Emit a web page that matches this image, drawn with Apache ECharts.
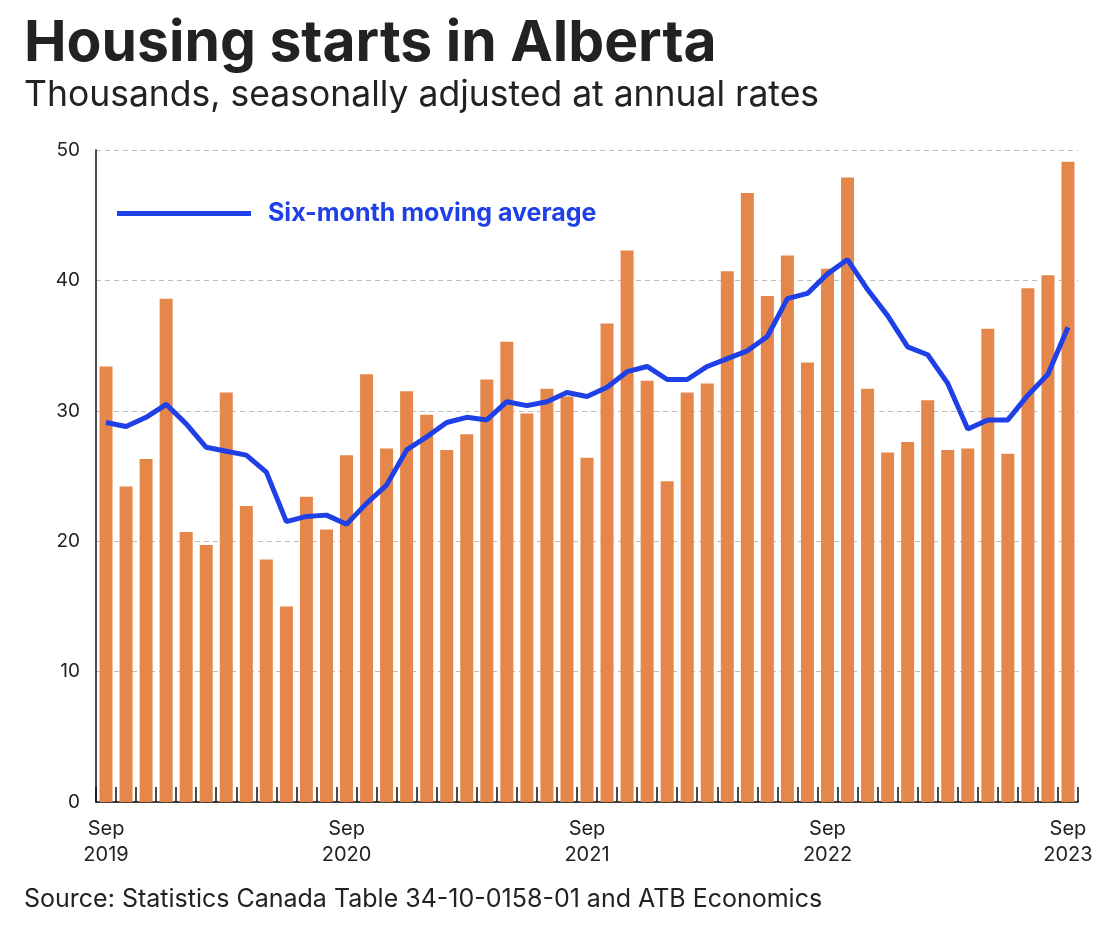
<!DOCTYPE html>
<html>
<head>
<meta charset="utf-8">
<script src="https://cdn.jsdelivr.net/npm/echarts@6/dist/echarts.min.js"></script>
<style>
html,body{margin:0;padding:0;background:#fff;}
#chart{width:1120px;height:938px;}
</style>
</head>
<body>
<div id="chart"></div>
<script>
const months = [
  'Sep 2019','Oct 2019','Nov 2019','Dec 2019','Jan 2020','Feb 2020','Mar 2020','Apr 2020','May 2020','Jun 2020','Jul 2020','Aug 2020',
  'Sep 2020','Oct 2020','Nov 2020','Dec 2020','Jan 2021','Feb 2021','Mar 2021','Apr 2021','May 2021','Jun 2021','Jul 2021','Aug 2021',
  'Sep 2021','Oct 2021','Nov 2021','Dec 2021','Jan 2022','Feb 2022','Mar 2022','Apr 2022','May 2022','Jun 2022','Jul 2022','Aug 2022',
  'Sep 2022','Oct 2022','Nov 2022','Dec 2022','Jan 2023','Feb 2023','Mar 2023','Apr 2023','May 2023','Jun 2023','Jul 2023','Aug 2023',
  'Sep 2023'
];
const starts = [
  33.4, 24.2, 26.3, 38.6, 20.7, 19.7, 31.4, 22.7, 18.6, 15.0, 23.4, 20.9,
  26.6, 32.8, 27.1, 31.5, 29.7, 27.0, 28.2, 32.4, 35.3, 29.8, 31.7, 31.1,
  26.4, 36.7, 42.3, 32.3, 24.6, 31.4, 32.1, 40.7, 46.7, 38.8, 41.9, 33.7,
  40.9, 47.9, 31.7, 26.8, 27.6, 30.8, 27.0, 27.1, 36.3, 26.7, 39.4, 40.4,
  49.1
];
const movingAvg = [
  29.1, 28.8, 29.5, 30.5, 29.0, 27.2, 26.9, 26.6, 25.3, 21.5, 21.9, 22.0,
  21.3, 22.9, 24.3, 27.0, 28.0, 29.1, 29.5, 29.3, 30.7, 30.4, 30.7, 31.4,
  31.1, 31.8, 33.0, 33.4, 32.4, 32.4, 33.4, 34.0, 34.6, 35.7, 38.6, 39.0,
  40.5, 41.6, 39.3, 37.3, 34.9, 34.3, 32.1, 28.6, 29.3, 29.3, 31.2, 32.8,
  36.4
];
const yTicks = [0, 10, 20, 30, 40, 50];
const titleText = 'Housing starts in Alberta';
const subtitleText = 'Thousands, seasonally adjusted at annual rates';
const sourceText = 'Source: Statistics Canada Table 34-10-0158-01 and ATB Economics';
const seriesName = 'Six-month moving average';

const chart = echarts.init(document.getElementById('chart'), null, {renderer: 'canvas'});
const FONT = 'Inter, "Noto Sans", sans-serif';
chart.setOption({
  backgroundColor: '#ffffff',
  animation: false,
  title: [
    {text: titleText, left: 19, top: 10,
     textStyle: {fontFamily: FONT, fontSize: 57, fontWeight: 'bold', color: '#222222'}},
    {text: subtitleText, left: 19, top: 72,
     textStyle: {fontFamily: FONT, fontSize: 35.5, fontWeight: 'normal', color: '#222222'}},
    {text: sourceText, left: 19, top: 882,
     textStyle: {fontFamily: FONT, fontSize: 25, fontWeight: 'normal', color: '#222222'}}
  ],
  legend: {
    data: [seriesName],
    left: 112, top: 196,
    icon: 'rect',
    itemWidth: 134, itemHeight: 5,
    textStyle: {fontFamily: FONT, fontSize: 25, fontWeight: 'bold', color: '#1E40E6', padding: [0, 0, 0, 12]}
  },
  grid: {left: 96, right: 42, top: 150, bottom: 136, containLabel: false},
  xAxis: {
    type: 'category',
    data: months,
    boundaryGap: true,
    axisLine: {show: true, lineStyle: {color: '#111111', width: 1.5}},
    axisTick: {show: true, inside: true, length: 15, interval: 0, alignWithLabel: false, lineStyle: {color: '#111111', width: 1.5}},
    axisLabel: {
      interval: function (i) { return i % 12 === 0; },
      formatter: function (v) { const p = v.split(' '); return p[0] + '\n' + p[1]; },
      fontFamily: FONT, fontSize: 20, color: '#222222', lineHeight: 26, margin: 14
    },
    splitLine: {show: false}
  },
  yAxis: {
    type: 'value',
    min: yTicks[0], max: yTicks[yTicks.length - 1], interval: 10,
    axisLine: {show: true, lineStyle: {color: '#111111', width: 1.5}},
    axisTick: {show: false},
    axisLabel: {fontFamily: FONT, fontSize: 19, color: '#222222', margin: 16},
    splitLine: {show: true, lineStyle: {color: '#bdbdbd', type: [5, 4], width: 1}}
  },
  series: [
    {
      name: 'Housing starts',
      type: 'bar',
      data: starts,
      barWidth: 13,
      itemStyle: {color: '#E5874A'},
      z: 2
    },
    {
      name: seriesName,
      type: 'line',
      data: movingAvg,
      symbol: 'none',
      lineStyle: {color: '#1E40E6', width: 5},
      itemStyle: {color: '#1E40E6'},
      z: 3
    }
  ]
});
</script>
</body>
</html>
